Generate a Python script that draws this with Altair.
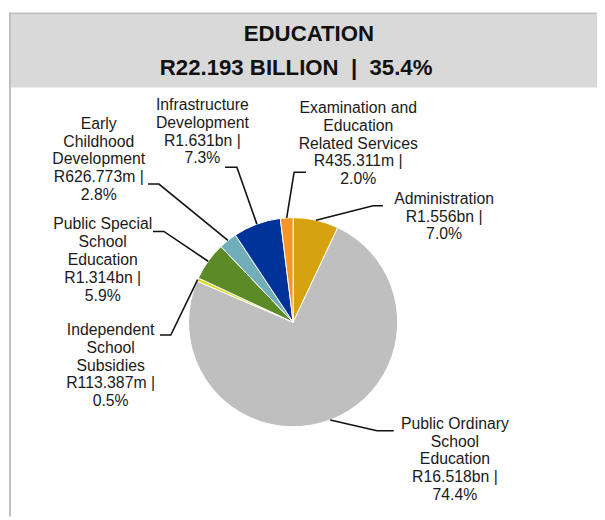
import math
import altair as alt
import pandas as pd

# ---------------- data ----------------
categories = [
    "Administration",
    "Public Ordinary School Education",
    "Independent School Subsidies",
    "Public Special School Education",
    "Early Childhood Development",
    "Infrastructure Development",
    "Examination and Education Related Services",
]
# wrapped label text as it appears on the chart
label_names = [
    "Administration",
    "Public Ordinary\nSchool\nEducation",
    "Independent\nSchool\nSubsidies",
    "Public Special\nSchool\nEducation",
    "Early\nChildhood\nDevelopment",
    "Infrastructure\nDevelopment",
    "Examination and\nEducation\nRelated Services",
]
amount_labels = ["R1.556bn", "R16.518bn", "R113.387m", "R1.314bn", "R626.773m", "R1.631bn", "R435.311m"]
values_bn = [1.556, 16.518, 0.113387, 1.314, 0.626773, 1.631, 0.435311]
percents = [7.0, 74.4, 0.5, 5.9, 2.8, 7.3, 2.0]
colors = ["#D6A20F", "#BFBFBF", "#D8D81C", "#5B8A27", "#70AFB9", "#003399", "#F7952B"]

title_line1 = "EDUCATION"
title_line2 = "R22.193 BILLION\u00a0 |\u00a0 35.4%"

# ---------------- layout (page pixel coordinates) ----------------
W, H = 597, 512          # view size (page minus 8px margin)
OFF = 8                  # page margin
CX, CY, R = 297, 323, 106  # pie centre / radius on page
# label anchor: centre x, first-line baseline y
label_pos = [(450, 203), (461, 431), (112, 336), (104, 229), (100, 127), (205, 108), (363, 111)]
# leader elbow and end points
leader_pts = [
    [(378, 205), (388, 205)],
    [(382, 433), (399, 433)],
    [(173, 336), (162, 336)],
    [(166, 231), (155, 231)],
    [(161, 183), (150, 183)],
    [(240, 166), (228, 166)],
    [(298, 171), (310, 171)],
]

xs = alt.Scale(domain=[OFF, OFF + W], range=[0, W], nice=False, zero=False)
ys = alt.Scale(domain=[OFF, OFF + H], range=[0, H], nice=False, zero=False)

pie_df = pd.DataFrame({
    "name": categories,
    "value": values_bn,
    "idx": list(range(len(categories))),
})

# leader lines: anchor on pie edge at the slice mid-angle
total = sum(values_bn)
rows = []
cum = 0.0
for i, v in enumerate(values_bn):
    mid = (cum + v / 2) / total * 2 * math.pi
    cum += v
    ax = CX + R * math.sin(mid)
    ay = CY - R * math.cos(mid)
    pts = [(ax, ay)] + leader_pts[i]
    for k, (px, py) in enumerate(pts):
        rows.append({"name": categories[i], "k": k, "px": px, "py": py})
lead_df = pd.DataFrame(rows)

lab_df = pd.DataFrame({
    "name": categories,
    "label": [f"{n}\n{a} |\n{p:.1f}%" for n, a, p in zip(label_names, amount_labels, percents)],
    "lx": [p[0] for p in label_pos],
    "ly": [p[1] for p in label_pos],
})

one = pd.DataFrame({"a": [0]})

header = alt.Chart(one).mark_rect(fill="#D9D9D9").encode(
    x=alt.value(3), x2=alt.value(W), y=alt.value(3), y2=alt.value(77)
)
top_border = alt.Chart(one).mark_rule(color="#BFBFBF", strokeWidth=2).encode(
    x=alt.value(1), x2=alt.value(W), y=alt.value(2)
)
left_border = alt.Chart(one).mark_rule(color="#BFBFBF", strokeWidth=2).encode(
    x=alt.value(2), y=alt.value(1), y2=alt.value(H)
)
t1 = alt.Chart(one).mark_text(
    text=title_line1, font="Liberation Sans", fontWeight="bold", fontSize=22.5,
    align="center", baseline="alphabetic", color="#111111"
).encode(x=alt.value(313 - OFF), y=alt.value(38 - OFF))
t2 = alt.Chart(one).mark_text(
    text=title_line2, font="Liberation Sans", fontWeight="bold", fontSize=22.5,
    align="center", baseline="alphabetic", color="#111111"
).encode(x=alt.value(300 - OFF), y=alt.value(72 - OFF))

pie = alt.Chart(pie_df).mark_arc(outerRadius=R, stroke="white", strokeWidth=1).encode(
    theta=alt.Theta("value:Q", stack=True),
    color=alt.Color("name:N", scale=alt.Scale(domain=categories, range=colors), legend=None),
    order=alt.Order("idx:Q"),
    x=alt.value(CX - OFF),
    y=alt.value(CY - OFF),
)

leaders = alt.Chart(lead_df).mark_line(color="#111111", strokeWidth=1.6).encode(
    x=alt.X("px:Q", scale=xs, axis=None),
    y=alt.Y("py:Q", scale=ys, axis=None),
    detail="name:N",
    order="k:Q",
)

labels = alt.Chart(lab_df).mark_text(
    font="Liberation Sans", fontSize=16, lineHeight=18, lineBreak="\n",
    align="center", baseline="alphabetic", color="#1A1A1A"
).encode(
    x=alt.X("lx:Q", scale=xs, axis=None),
    y=alt.Y("ly:Q", scale=ys, axis=None),
    text="label:N",
)

chart = alt.layer(header, top_border, left_border, t1, t2, pie, leaders, labels).properties(
    width=W, height=H, padding=0, autosize=alt.AutoSizeParams(type="none")
).configure_view(stroke=None).resolve_scale(color="independent")

chart.save("out.html", embed_options={"renderer": "svg", "actions": False})
